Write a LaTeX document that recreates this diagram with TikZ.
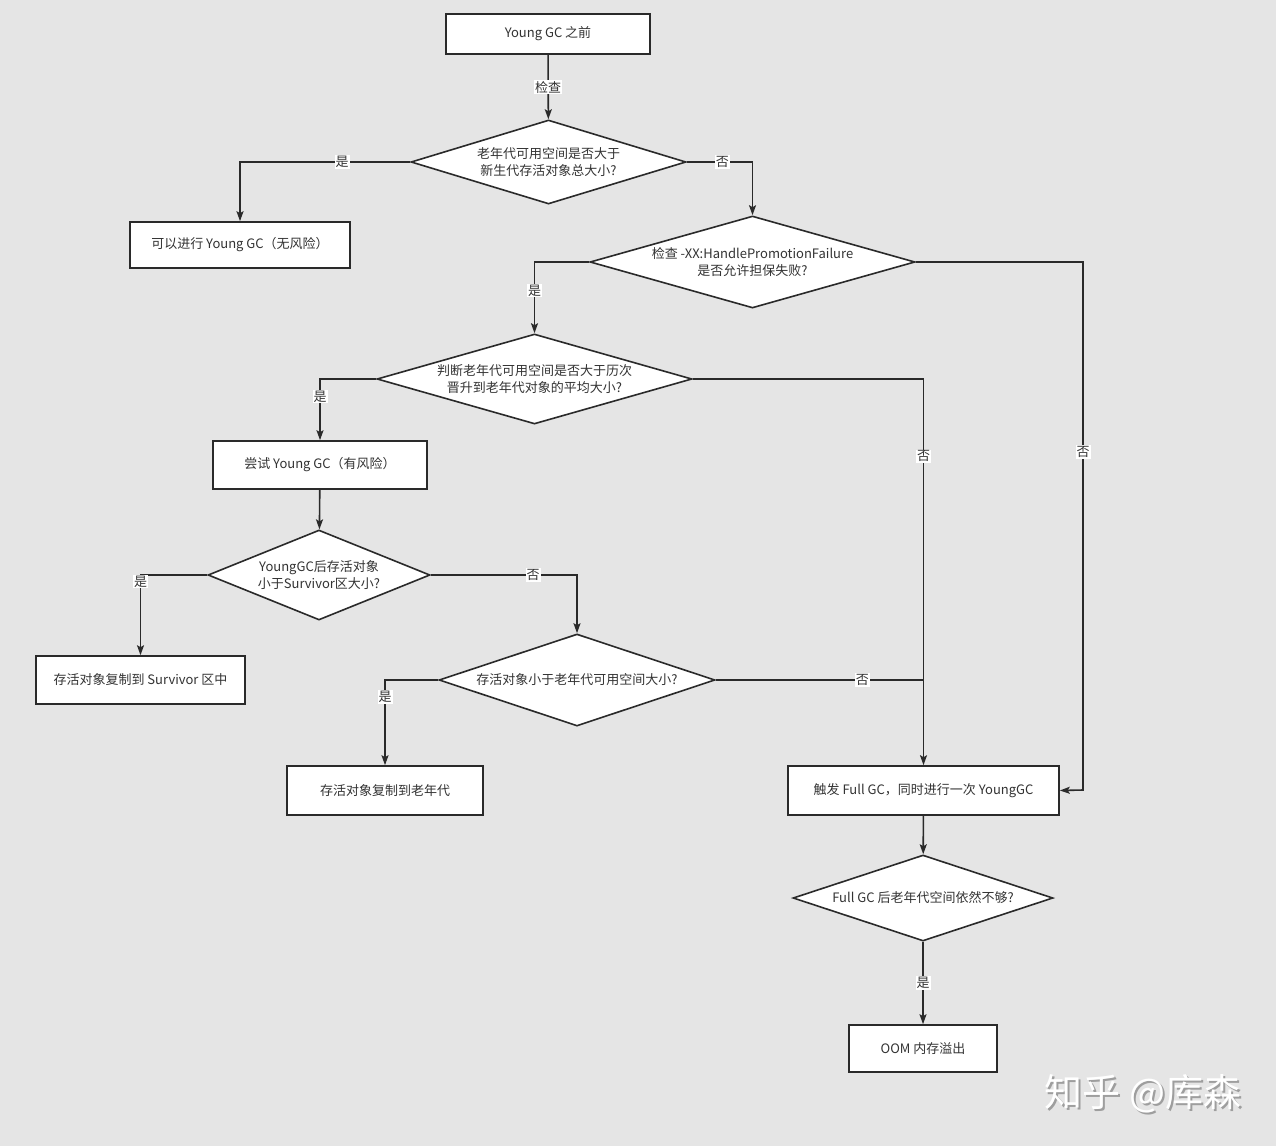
\documentclass[tikz,border=0pt]{standalone}
\usepackage{fontspec}
\setmainfont{Noto Sans CJK SC}
\usetikzlibrary{shapes.geometric,arrows.meta}
\definecolor{bg}{HTML}{E5E5E5}
\definecolor{ink}{HTML}{2A2A2A}
\definecolor{txt}{HTML}{333333}
\tikzset{
  boxnode/.style={draw=ink,line width=1.6pt,fill=white,rectangle,inner sep=0pt,text=txt,font=\fontsize{13}{16.5}\selectfont,align=center},
  dianode/.style={draw=ink,line width=1.6pt,fill=white,diamond,inner sep=0pt,text=txt,font=\fontsize{13}{16.5}\selectfont,align=center},
  conn/.style={draw=ink,line width=1.6pt},
  arr/.style={conn,-{Stealth[length=10pt,width=7pt,inset=2pt]}},
  lbl/.style={fill=white,inner sep=1pt,text=txt,font=\fontsize{13}{14}\selectfont},
}
\begin{document}
\begin{tikzpicture}[x=1pt,y=-1pt]
\fill[bg] (0,0) rectangle (1276,1146);
\useasboundingbox (0,0) rectangle (1276,1146);

% boxes
\node[boxnode,minimum width=204pt,minimum height=40pt] (start) at (548,34) {Young GC 之前};
\node[boxnode,minimum width=220pt,minimum height=46pt] (box1) at (240,245) {可以进行 Young GC（无风险）};
\node[boxnode,minimum width=214pt,minimum height=48pt] (box2) at (320,465) {尝试 Young GC（有风险）};
\node[boxnode,minimum width=209pt,minimum height=48pt] (box3) at (140.5,680) {存活对象复制到 Survivor 区中};
\node[boxnode,minimum width=196pt,minimum height=49pt] (box4) at (385,790.5) {存活对象复制到老年代};
\node[boxnode,minimum width=271pt,minimum height=49pt] (box5) at (923.5,790.5) {触发 Full GC，同时进行一次 YoungGC};
\node[boxnode,minimum width=148pt,minimum height=47pt] (box6) at (923,1048.5) {OOM 内存溢出};

% diamonds
\node[dianode,minimum width=275pt,minimum height=84pt,shape aspect=3.27] (d1) at (548.5,162) {老年代可用空间是否大于\\新生代存活对象总大小?};
\node[dianode,minimum width=325pt,minimum height=92pt,shape aspect=3.5] (d2) at (752.5,262) {检查 -XX:HandlePromotionFailure\\是否允许担保失败?};
\node[dianode,minimum width=315pt,minimum height=90pt,shape aspect=3.5] (d3) at (534.5,379) {判断老年代可用空间是否大于历次\\晋升到老年代对象的平均大小?};
\node[dianode,minimum width=222pt,minimum height=90pt,shape aspect=2.47] (d4) at (319,575) {YoungGC后存活对象\\小于Survivor区大小?};
\node[dianode,minimum width=276pt,minimum height=92pt,shape aspect=3.0] (d5) at (577,680) {存活对象小于老年代可用空间大小?};
\node[dianode,minimum width=260pt,minimum height=86pt,shape aspect=3.02] (d6) at (923,898) {Full GC 后老年代空间依然不够?};

% helper coordinates
\coordinate (r1) at (1083,790);
\coordinate (m1) at (923,680);

% connectors
\draw[arr] (start) -- node[lbl]{检查} (d1);
\draw[arr] (d1.west) -| node[lbl,pos=0.2]{是} (box1.north);
\draw[arr] (d1.east) -| node[lbl,pos=0.27]{否} (d2.north);
\draw[arr] (d2.west) -| node[lbl,pos=0.7]{是} (d3.north);
\draw[arr] (d2.east) -| node[lbl,pos=0.68]{否} (r1) -- (box5.east);
\draw[arr] (d3.west) -| node[lbl,pos=0.645]{是} (box2.north);
\draw[arr] (d3.east) -| node[lbl,pos=0.6]{否} (box5.north);
\draw[arr] (box2) -- (d4);
\draw[arr] (d4.west) -| node[lbl,pos=0.54]{是} (box3.north);
\draw[arr] (d4.east) -| node[lbl,pos=0.35]{否} (d5.north);
\draw[arr] (d5.west) -| node[lbl,pos=0.6]{是} (box4.north);
\draw[conn] (d5.east) -- node[lbl,pos=0.707]{否} (m1);
\draw[arr] (box5) -- (d6);
\draw[arr] (d6) -- node[lbl]{是} (box6);

% watermark
\node[text=black!38,font=\fontsize{38}{38}\selectfont] (wms) at (1145,1096) {知乎 @库森};
\node[text=white,font=\fontsize{38}{38}\selectfont] (wm) at (1143,1094) {知乎 @库森};
\end{tikzpicture}
\end{document}
